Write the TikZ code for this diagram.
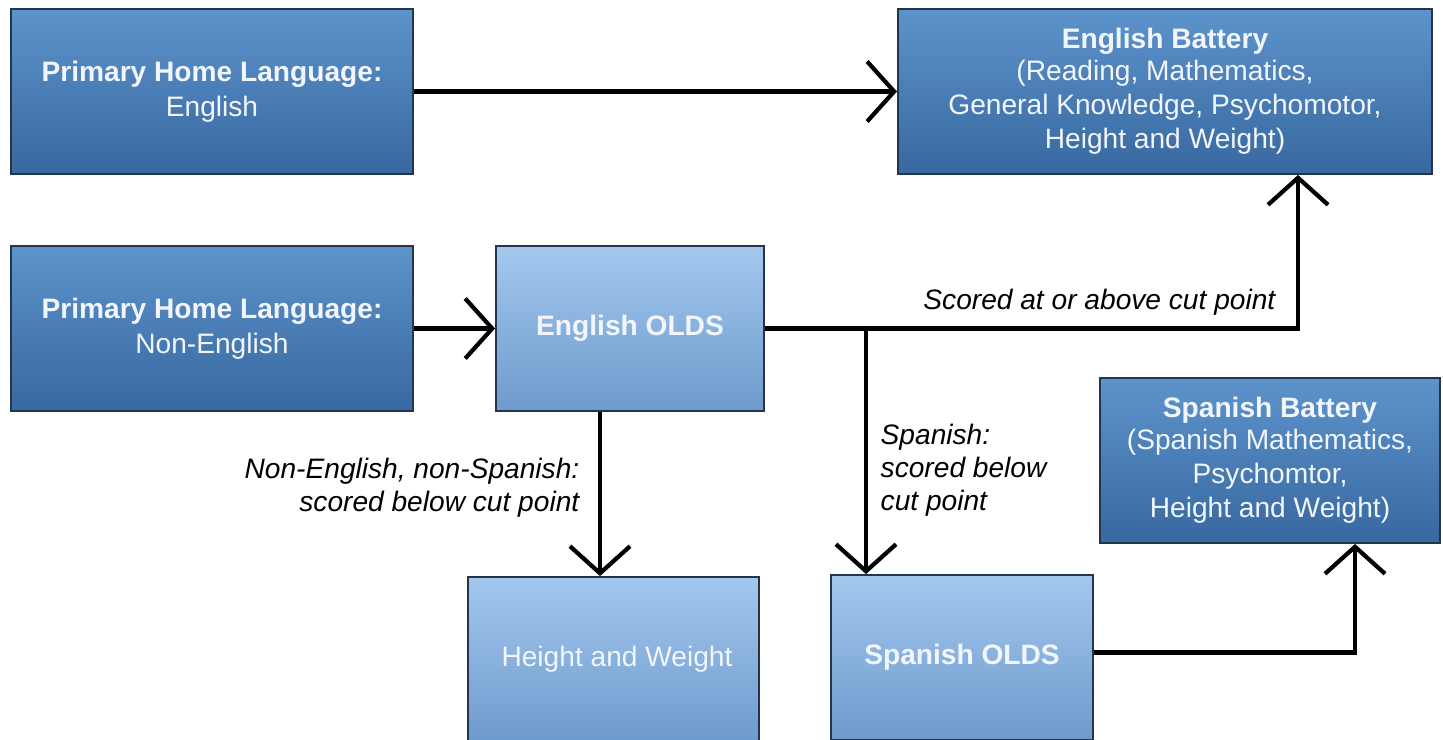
\documentclass[tikz,border=0pt]{standalone}
\usepackage{fontspec}
\setmainfont{Liberation Sans}
\usetikzlibrary{arrows.meta}
\definecolor{darktop}{RGB}{93, 147, 203}
\definecolor{darkbottom}{RGB}{56, 104, 160}
\definecolor{lighttop}{RGB}{163, 200, 238}
\definecolor{lightbottom}{RGB}{111, 154, 205}
\definecolor{edgecolor}{RGB}{38, 52, 74}
\definecolor{labelcolor}{RGB}{242, 246, 252}

\tikzset{
  box/.style={draw=edgecolor, line width=0.5pt, inner sep=0pt, minimum height=1.65cm,
    align=center, text=labelcolor, font=\fontsize{8}{9.8}\selectfont},
  darkbox/.style={box, top color=darktop, bottom color=darkbottom},
  lightbox/.style={box, top color=lighttop, bottom color=lightbottom},
  flow/.style={line width=1.2pt, -{Straight Barb[length=0.27cm, width=0.6cm, line width=1.2pt]}},
  note/.style={font=\fontsize{8}{9.4}\selectfont\itshape, inner sep=0pt}
}

\begin{document}
\begin{tikzpicture}[x=0.01cm, y=-0.01cm]
    \path[use as bounding box, clip] (0,0) rectangle (1443,739);
    \fill[white] (0,0) rectangle (1443,739);
    % Boxes
    \node[darkbox, minimum width=4.02cm] (homeEng) at (212,91.5)
        {\textbf{Primary Home Language:}\\English};
    \node[darkbox, minimum width=5.34cm] (engBattery) at (1165,91.5)
        {\raisebox{-0.03cm}{\textbf{English Battery}}\\(Reading, Mathematics,\\General Knowledge, Psychomotor,\\Height and Weight)};
    \node[darkbox, minimum width=4.02cm] (homeNon) at (212,328.5)
        {\textbf{Primary Home Language:}\\Non-English};
    \node[lightbox, minimum width=2.68cm] (engOlds) at (630,328.5)
        {\textbf{English OLDS}};
    \node[darkbox, minimum width=3.40cm] (spaBattery) at (1270,460.5)
        {\raisebox{-0.03cm}{\textbf{Spanish Battery}}\\(Spanish Mathematics,\\Psychomtor,\\Height and Weight)};
    \node[lightbox, minimum width=2.91cm] (hw) at (613.5,659.5)
        {\hspace*{0.07cm}Height and Weight};
    \node[lightbox, minimum width=2.62cm] (spaOlds) at (962,657.5)
        {\textbf{Spanish OLDS}};
    % Helper coordinates
    \coordinate (upTap) at (1298,0);
    \coordinate (split) at (866,328.5);
    \coordinate (drop) at (600,0);
    \coordinate (rise) at (1355,0);
    % Connectors
    \draw[flow] (homeEng.east) -- (engBattery.west);
    \draw[flow] (homeNon.east) -- (engOlds.west);
    \draw[flow] (engOlds.east) -| (upTap |- engBattery.south);
    \draw[flow] (split) -- (split |- spaOlds.north);
    \draw[flow] (drop |- engOlds.south) -- (drop |- hw.north);
    \draw[flow] ([yshift=0.05cm]spaOlds.east) -| (rise |- spaBattery.south);
    % Labels
    \node[note, anchor=base east] (aboveNote) at (1276,309) {Scored at or above cut point};
    \node[note, anchor=north west, align=left] (spaNote) at (880,423)
        {Spanish:\\scored below\\cut point};
    \node[note, anchor=north east, align=right] (otherNote) at (580,457)
        {Non-English, non-Spanish:\\scored below cut point};
\end{tikzpicture}
\end{document}
